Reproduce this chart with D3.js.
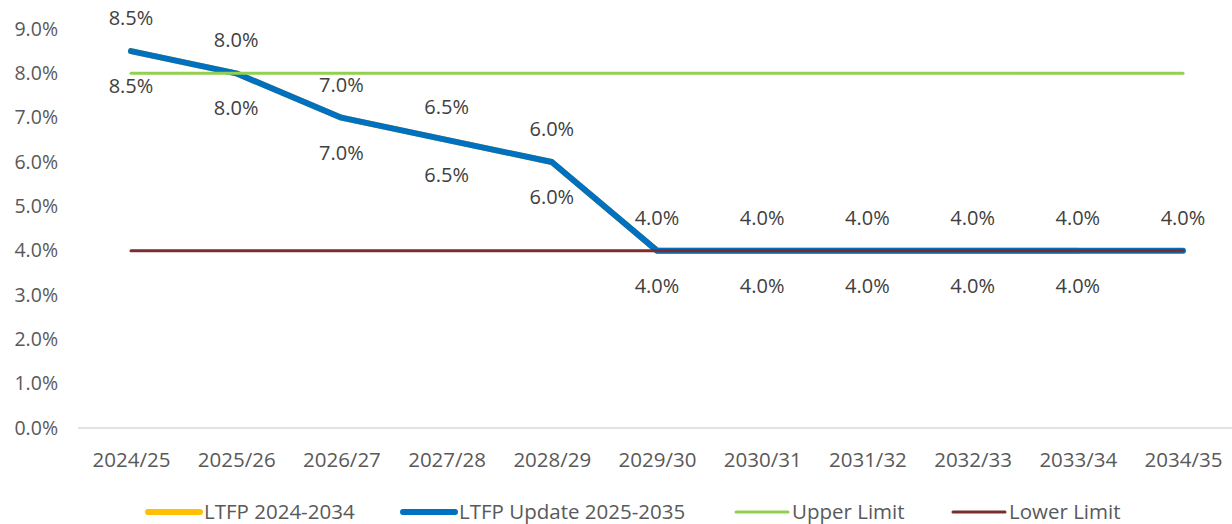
<!DOCTYPE html>
<html>
<head>
<meta charset="utf-8">
<script src="https://cdn.jsdelivr.net/npm/d3@7"></script>
<style>
	body { margin: 0; background: #fff; }
	svg { display: block; font-family: "Open Sans", sans-serif; }
</style>
</head>
<body>
<svg id="chart" width="1232" height="524"></svg>
<script>
var years = ['2024/25', '2025/26', '2026/27', '2027/28', '2028/29', '2029/30', '2030/31', '2031/32', '2032/33', '2033/34', '2034/35'];
var ltfp2024 = [8.5, 8.0, 7.0, 6.5, 6.0, 4.0, 4.0, 4.0, 4.0, 4.0];
var ltfpUpdate = [8.5, 8.0, 7.0, 6.5, 6.0, 4.0, 4.0, 4.0, 4.0, 4.0, 4.0];
var upperLimit = [8, 8, 8, 8, 8, 8, 8, 8, 8, 8, 8];
var lowerLimit = [4, 4, 4, 4, 4, 4, 4, 4, 4, 4, 4];
var yTicks = [0, 1, 2, 3, 4, 5, 6, 7, 8, 9];

var series = [
	{ name: 'LTFP 2024-2034', values: ltfp2024, color: '#FFC000', width: 6, labels: 'below' },
	{ name: 'LTFP Update 2025-2035', values: ltfpUpdate, color: '#0070C0', width: 6, labels: 'above' },
	{ name: 'Upper Limit', values: upperLimit, color: '#92D050', width: 3 },
	{ name: 'Lower Limit', values: lowerLimit, color: '#7B2C2C', width: 3 }
];

var fontSize = 19.5;
var svg = d3.select('#chart');

var x = d3.scalePoint()
	.domain(years)
	.range([78.4, 1235.6])
	.padding(0.5);

var y = d3.scaleLinear()
	.domain([0, 9])
	.range([428, 29]);

// y axis labels
var yAxis = svg.append('g')
	.attr('transform', 'translate(58,0)')
	.call(d3.axisLeft(y).tickValues(yTicks).tickSize(0).tickPadding(0).tickFormat(d => d.toFixed(1) + '%'));
yAxis.select('.domain').remove();
yAxis.selectAll('text')
	.attr('fill', '#595959')
	.attr('font-size', fontSize)
	.attr('font-family', '"Open Sans", sans-serif');

// baseline
svg.append('line')
	.attr('x1', 78).attr('x2', 1232)
	.attr('y1', y(0)).attr('y2', y(0))
	.attr('stroke', '#D9D9D9')
	.attr('stroke-width', 1.5);

// x axis labels
var xAxis = svg.append('g')
	.attr('transform', 'translate(0,' + y(0) + ')')
	.call(d3.axisBottom(x).tickSize(0).tickPadding(24));
xAxis.select('.domain').remove();
xAxis.selectAll('text')
	.attr('fill', '#595959')
	.attr('font-size', 20.5)
	.attr('font-family', '"Open Sans", sans-serif');

var line = d3.line()
	.x((d, i) => x(years[i]))
	.y(d => y(d));

series.forEach(function(s) {
	svg.append('path')
		.datum(s.values)
		.attr('d', line)
		.attr('fill', 'none')
		.attr('stroke', s.color)
		.attr('stroke-width', s.width)
		.attr('stroke-linecap', 'round')
		.attr('stroke-linejoin', 'round');
});

// data labels
series.filter(s => s.labels).forEach(function(s) {
	svg.append('g').selectAll('text')
		.data(s.values)
		.enter()
		.append('text')
		.attr('x', (d, i) => x(years[i]))
		.attr('y', d => s.labels == 'above' ? y(d) - 26 : y(d) + 42)
		.attr('text-anchor', 'middle')
		.attr('fill', '#404040')
		.attr('font-size', 20)
		.text(d => d.toFixed(1) + '%');
});

// legend
var legendX = [145, 400, 733, 950];
var legend = svg.append('g');
series.forEach(function(s, i) {
	var g = legend.append('g').attr('transform', 'translate(' + legendX[i] + ',512)');
	g.append('line')
		.attr('x1', 3).attr('x2', 55)
		.attr('y1', 0).attr('y2', 0)
		.attr('stroke', s.color)
		.attr('stroke-width', s.width)
		.attr('stroke-linecap', 'round');
	g.append('text')
		.attr('x', 59)
		.attr('y', 7)
		.attr('fill', '#595959')
		.attr('font-size', 20.5)
		.text(s.name);
});
</script>
</body>
</html>
